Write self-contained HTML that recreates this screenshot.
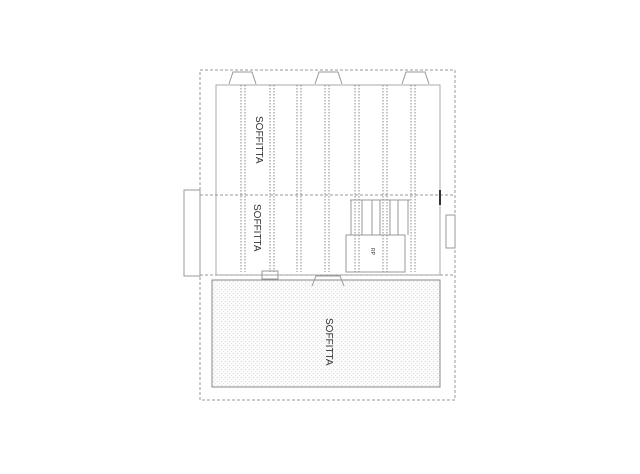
<!DOCTYPE html>
<html><head><meta charset="utf-8"><style>
html,body{margin:0;padding:0;background:#fff;}
svg{display:block}
text{font-family:"Liberation Sans",sans-serif;fill:#333;}
</style></head><body>
<svg width="640" height="474" viewBox="0 0 640 474" xmlns="http://www.w3.org/2000/svg">
<defs>
<pattern id="st" width="4" height="4" patternUnits="userSpaceOnUse">
<rect width="4" height="4" fill="#fafafa"/><rect x="1" y="1" width="1" height="1" fill="#ddd"/><rect x="3" y="3" width="1" height="1" fill="#e6e6e6"/>
</pattern>
</defs>
<g fill="none" stroke="#999" stroke-width="1">
<!-- outer frame -->
<rect x="200" y="70" width="255" height="330" stroke-dasharray="3,2"/>
<!-- upper inner -->
<rect x="216" y="85" width="224" height="190" stroke="#aaa"/>
<line x1="200" y1="195" x2="455" y2="195" stroke-dasharray="3,2"/>
<line x1="200" y1="275" x2="455" y2="275" stroke-dasharray="3,2"/>
<!-- left protrusion -->
<rect x="184" y="190" width="16" height="86"/>
<!-- lower -->
<rect x="212" y="280" width="228" height="107" fill="url(#st)" stroke="#888"/>
</g>
<g stroke="#888" stroke-width="1" stroke-dasharray="1.5,1.5">
<line x1="241" y1="85" x2="241" y2="272"/><line x1="245" y1="85" x2="245" y2="272"/>
<line x1="270" y1="85" x2="270" y2="272"/><line x1="274" y1="85" x2="274" y2="272"/>
<line x1="297" y1="85" x2="297" y2="272"/><line x1="301" y1="85" x2="301" y2="272"/>
<line x1="325" y1="85" x2="325" y2="272"/><line x1="329" y1="85" x2="329" y2="272"/>
<line x1="355" y1="85" x2="355" y2="272"/><line x1="359" y1="85" x2="359" y2="272"/>
<line x1="383" y1="85" x2="383" y2="272"/><line x1="387" y1="85" x2="387" y2="272"/>
<line x1="411" y1="85" x2="411" y2="272"/><line x1="415" y1="85" x2="415" y2="272"/>
</g>
<g fill="none" stroke="#999" stroke-width="1">
<!-- chimney trapezoids -->
<path d="M229 84 L233 72 L252 72 L256 84"/>
<path d="M315 84 L319 72 L338 72 L342 84"/>
<path d="M402 84 L406 72 L425 72 L429 84"/>
<path d="M312 286 L316 276 L340 276 L344 286"/>
<!-- stairs -->
<line x1="350" y1="200" x2="410" y2="200"/>
<line x1="351" y1="200" x2="351" y2="235"/>
<line x1="362" y1="200" x2="362" y2="235"/><line x1="372" y1="200" x2="372" y2="235"/>
<line x1="380" y1="200" x2="380" y2="235"/><line x1="390" y1="200" x2="390" y2="235"/>
<line x1="398" y1="200" x2="398" y2="235"/><line x1="408" y1="200" x2="408" y2="235"/>
<rect x="346" y="235" width="59" height="37"/>
<rect x="262" y="271" width="16" height="8"/>
<rect x="446" y="215" width="9" height="33"/>
</g>
<line x1="440" y1="190" x2="440" y2="205" stroke="#333" stroke-width="2"/>
<text x="0" y="0" font-size="10" transform="translate(256,116) rotate(90)">SOFFITTA</text>
<text x="0" y="0" font-size="10" transform="translate(254,204) rotate(90)">SOFFITTA</text>
<text x="0" y="0" font-size="10" transform="translate(326,318) rotate(90)">SOFFITTA</text>
<text x="0" y="0" font-size="5" transform="translate(371,248) rotate(90)">RP</text>
</svg>
</body></html>
